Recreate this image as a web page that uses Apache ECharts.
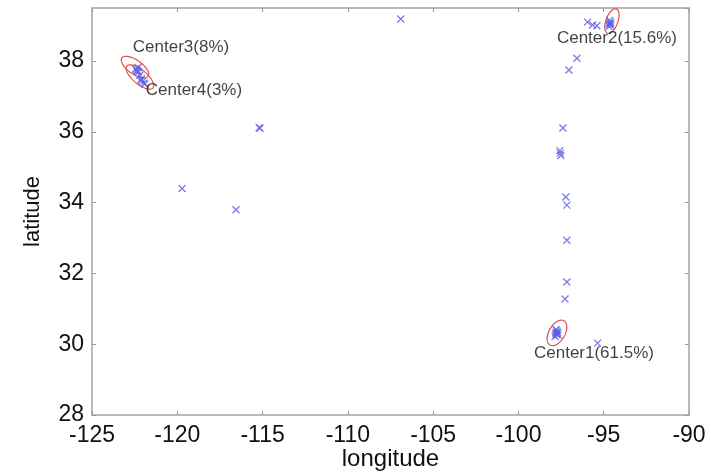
<!DOCTYPE html>
<html lang="en">
<head>
<meta charset="UTF-8">
<title>centers</title>
<script src="https://cdn.jsdelivr.net/npm/echarts@6/dist/echarts.min.js"></script>
<style>
    html, body {margin:0; padding:0; background:#fff}
    #main {width:711px; height:472px}
</style>
</head>
<body>
<div id="main"></div>
<script>
// observed locations
var ptLon = [
    -106.9, -115.2, -115.15, -119.72, -116.56,
    -97.39, -97.57, -97.55, -97.52, -97.22, -97.16, -97.16, -97.16, -97.27,
    -97.85, -97.78, -97.74, -97.70, -97.76, -97.82, -97.68, -97.80, -95.36,
    -95.95, -95.65, -95.40, -94.70, -94.60, -94.65, -94.58, -94.68, -94.62, -96.57, -97.04,
    -122.45, -122.40, -122.30, -122.27, -122.20, -122.10, -122.05, -121.95, -121.90, -122.15, -122.35
];
var ptLat = [
    39.19, 36.12, 36.10, 34.40, 33.80,
    36.11, 35.47, 35.40, 35.33, 34.16, 33.93, 32.94, 31.76, 31.28,
    30.22, 30.28, 30.30, 30.34, 30.38, 30.32, 30.26, 30.42, 30.03,
    39.10, 39.02, 39.00, 39.05, 39.10, 39.15, 39.02, 38.98, 39.07, 38.08, 37.75,
    37.78, 37.75, 37.82, 37.70, 37.60, 37.50, 37.42, 37.38, 37.35, 37.45, 37.72
];

// cluster centres
var centerNames = ['Center1', 'Center2', 'Center3', 'Center4'];
var centerShare = ['61.5%', '15.6%', '8%', '3%'];
var centerLon = [-97.74, -94.52, -122.48, -122.19];
var centerLat = [30.32, 39.13, 37.83, 37.55];
// ellipse semi axes (in degrees of longitude) and tilt (degrees)
var ellA = [0.82, 0.76, 0.94, 1.0];
var ellB = [0.47, 0.35, 0.41, 0.41];
var ellTilt = [60, 70, -35, -40];

var xMin = -125, xMax = -90, xStep = 5;
var yMin = 28, yMax = 39.5, yStep = 2;

var chart = echarts.init(document.getElementById('main'));

var pts = [];
for (var i = 0; i < ptLon.length; i++) pts.push([ptLon[i], ptLat[i]]);

var ells = [], labs = [];
var labelOffset = [[37, 20], [5, 17], [46, -20], [54, 13]];
for (var j = 0; j < centerNames.length; j++) {
    ells.push([centerLon[j], centerLat[j], ellA[j], ellB[j], ellTilt[j]]);
    labs.push({
        name: centerNames[j] + '(' + centerShare[j] + ')',
        value: [centerLon[j], centerLat[j]],
        label: {offset: labelOffset[j]}
    });
}

var axisGray = '#b9b9b9';
var tickFont = {color: '#111', fontSize: 23, fontFamily: 'Liberation Sans, Arial'};

function mirrorAxis(pos, isX) {
    return {
        type: 'value', position: pos,
        min: isX ? xMin : yMin, max: isX ? xMax : yMax, interval: isX ? xStep : yStep,
        axisLine: {show: true, onZero: false, lineStyle: {color: axisGray, width: 2}},
        axisTick: {show: true, inside: true, length: 4, lineStyle: {color: '#999'}},
        axisLabel: {show: false},
        splitLine: {show: false}
    };
}

chart.setOption({
    animation: false,
    backgroundColor: '#fff',
    grid: {left: 92, right: 22, top: 8, bottom: 57, outerBoundsMode: 'none', containLabel: false},
    xAxis: [{
        type: 'value', position: 'bottom',
        min: xMin, max: xMax, interval: xStep,
        name: 'longitude', nameLocation: 'middle', nameGap: 32, nameMoveOverlap: false,
        nameTextStyle: {color: '#111', fontSize: 24, fontFamily: 'Liberation Sans, Arial'},
        axisLine: {show: true, onZero: false, lineStyle: {color: axisGray, width: 2}},
        axisTick: {show: true, inside: true, length: 4, lineStyle: {color: '#999'}},
        axisLabel: Object.assign({margin: 9}, tickFont),
        splitLine: {show: false}
    }, mirrorAxis('top', true)],
    yAxis: [{
        type: 'value', position: 'left',
        min: yMin, max: yMax, interval: yStep,
        name: 'latitude', nameLocation: 'middle', nameGap: 48, nameRotate: 90, nameMoveOverlap: false,
        nameTextStyle: {color: '#111', fontSize: 22, fontFamily: 'Liberation Sans, Arial'},
        axisLine: {show: true, onZero: false, lineStyle: {color: axisGray, width: 2}},
        axisTick: {show: true, inside: true, length: 4, lineStyle: {color: '#999'}},
        axisLabel: Object.assign({margin: 8, showMaxLabel: false}, tickFont),
        splitLine: {show: false}
    }, mirrorAxis('right', false)],
    series: [{
        type: 'scatter',
        data: pts,
        symbol: 'path://M0,0L10,10M10,0L0,10',
        symbolSize: 7,
        itemStyle: {color: 'rgba(0,0,0,0)', borderColor: '#5a5ae6', borderWidth: 1.3}
    }, {
        type: 'custom',
        data: ells,
        encode: {x: 0, y: 1},
        renderItem: function (params, api) {
            var c = api.coord([api.value(0), api.value(1)]);
            var unit = api.size([1, 0])[0];
            var a = api.value(2) * unit, b = api.value(3) * unit;
            var t = api.value(4) * Math.PI / 180;
            var p = [];
            for (var k = 0; k < 72; k++) {
                var th = k / 72 * 2 * Math.PI;
                var x = a * Math.cos(th), y = b * Math.sin(th);
                p.push([c[0] + x * Math.cos(t) - y * Math.sin(t),
                        c[1] - (x * Math.sin(t) + y * Math.cos(t))]);
            }
            return {type: 'polygon', shape: {points: p},
                style: {fill: 'none', stroke: '#e05050', lineWidth: 1.2}};
        }
    }, {
        type: 'scatter',
        data: labs,
        symbolSize: 0,
        label: {
            show: true, position: 'inside',
            formatter: '{b}',
            color: '#111', fontSize: 17, fontFamily: 'Liberation Sans, Arial'
        }
    }]
});
</script>
</body>
</html>
